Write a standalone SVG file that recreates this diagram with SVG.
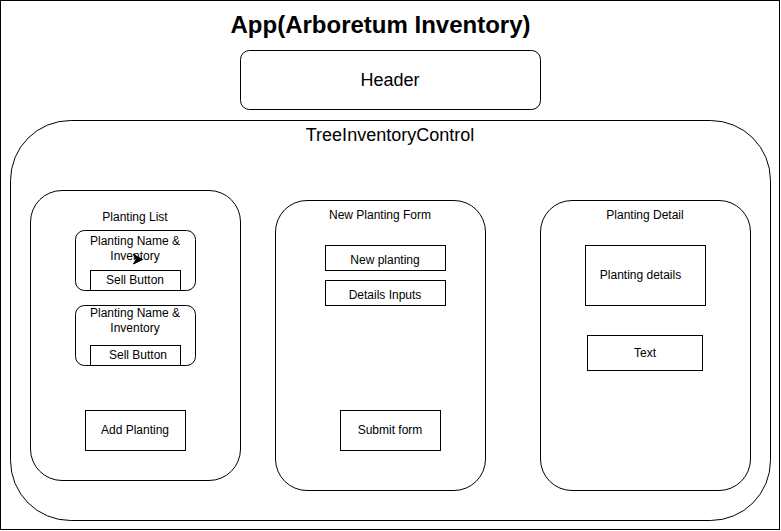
<svg xmlns="http://www.w3.org/2000/svg" width="781" height="531" viewBox="0 0 781 531">
<style>
.box{fill:#fff;stroke:#000;stroke-width:1}
.t{font-family:"Liberation Sans",Arial,sans-serif;fill:#000;text-anchor:middle}
.s12{font-size:12px}
.s18{font-size:18px}
</style>
<rect x="0" y="0" width="781" height="531" fill="#fff"/>
<g id="app">
<rect class="box" x="0.5" y="0.5" width="779" height="529"/>
<text class="t" x="380.5" y="33" font-size="24" font-weight="bold">App(Arboretum Inventory)</text>
</g>
<g id="header">
<rect class="box" x="240.5" y="50.5" width="300" height="59" rx="9"/>
<text class="t s18" x="390" y="86">Header</text>
</g>
<g id="treeInventoryControl">
<rect class="box" x="10.5" y="120.5" width="760" height="400" rx="60"/>
<text class="t s18" x="390" y="141">TreeInventoryControl</text>
</g>
<g id="plantingList">
<rect class="box" x="30.5" y="190.5" width="210" height="290" rx="31.5"/>
<text class="t s12" x="135" y="221">Planting List</text>
</g>
<g id="plantingCard1">
<rect class="box" x="75.5" y="230.5" width="120" height="60" rx="9"/>
<text class="t s12" x="135" y="245">Planting Name &amp;</text>
<text class="t s12" x="135" y="260">Inventory</text>
</g>
<g id="sellButton1">
<rect class="box" x="90.5" y="270.5" width="90" height="20"/>
<text class="t s12" x="135" y="284">Sell Button</text>
</g>
<g id="plantingCard2">
<rect class="box" x="75.5" y="305.5" width="120" height="60" rx="9"/>
<text class="t s12" x="135" y="317">Planting Name &amp;</text>
<text class="t s12" x="135" y="332">Inventory</text>
</g>
<g id="sellButton2">
<rect class="box" x="90.5" y="345.5" width="90" height="20"/>
<text class="t s12" x="138" y="359">Sell Button</text>
</g>
<g id="addPlanting">
<rect class="box" x="85.5" y="410.5" width="100" height="40"/>
<text class="t s12" x="135" y="434">Add Planting</text>
</g>
<g id="newPlantingForm">
<rect class="box" x="275.5" y="200.5" width="210" height="290" rx="31.5"/>
<text class="t s12" x="380" y="219">New Planting Form</text>
</g>
<g id="newPlanting">
<rect class="box" x="325.5" y="245.5" width="120" height="25"/>
<text class="t s12" x="385" y="264">New planting</text>
</g>
<g id="detailsInputs">
<rect class="box" x="325.5" y="280.5" width="120" height="25"/>
<text class="t s12" x="385" y="299">Details Inputs</text>
</g>
<g id="submitForm">
<rect class="box" x="340.5" y="410.5" width="100" height="40"/>
<text class="t s12" x="390" y="434">Submit form</text>
</g>
<g id="plantingDetail">
<rect class="box" x="540.5" y="200.5" width="210" height="290" rx="31.5"/>
<text class="t s12" x="645" y="219">Planting Detail</text>
</g>
<g id="plantingDetails">
<rect class="box" x="585.5" y="245.5" width="120" height="60"/>
<text class="t s12" x="640.5" y="279">Planting details</text>
</g>
<g id="textBox">
<rect class="box" x="587.5" y="335.5" width="115" height="35"/>
<text class="t s12" x="645" y="357">Text</text>
</g>
<g id="connectors">
<polygon points="133.5,254.5 142.5,259.5 133.5,264 136,259.5" fill="#000" stroke="#000" stroke-width="1"/>
</g>
</svg>
